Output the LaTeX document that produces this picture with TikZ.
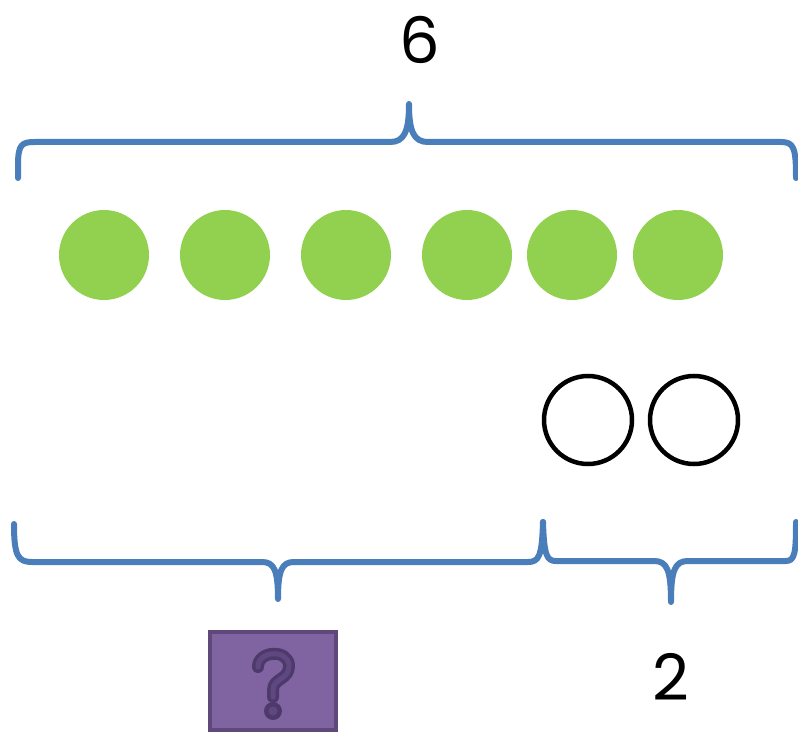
\documentclass[tikz,border=0pt]{standalone}
\usepackage{fontspec}
\setmainfont{Poppins}
\definecolor{bracec}{HTML}{4A7EBB}
\definecolor{greenc}{HTML}{92D050}
\definecolor{purplec}{HTML}{8064A2}
\definecolor{purpled}{HTML}{5F497A}
\definecolor{qdark}{HTML}{4E3A6A}
\definecolor{qmid}{HTML}{5F4882}
\begin{document}
\begin{tikzpicture}[x=1pt,y=-1pt,
  brace/.style={draw=bracec,line width=6pt,line cap=round,line join=round},
  dot/.style={circle,fill=greenc,minimum size=90pt,inner sep=0pt},
  ring/.style={circle,draw=black,line width=4.5pt,minimum size=88pt,inner sep=0pt},
  num/.style={font=\fontsize{64}{70}\selectfont,inner sep=0pt},
  qpath/.style={line cap=round,line join=round}]
\useasboundingbox (0,0) rectangle (798,733);
% top brace
\draw[brace] (18,178) -- (18,165) .. controls (18,144) and (22,142) .. (35,142)
  -- (390,142) .. controls (404,142) and (409,132) .. (409,104)
  .. controls (409,132) and (414,142) .. (428,142)
  -- (781,142) .. controls (794,142) and (796,148) .. (796,178);
\node[num] (six) at (420,40) {6};
% green dots
\foreach \x/\n in {104/g1,225/g2,346/g3,467/g4,572/g5,678/g6}
  \node[dot] (\n) at (\x,255) {};
% rings
\node[ring] (r1) at (588,420) {};
\node[ring] (r2) at (694,420) {};
% bottom left brace
\draw[brace] (14,524) .. controls (14,556) and (18,562) .. (32,562)
  -- (262,562) .. controls (274,562) and (278,570) .. (278,599)
  .. controls (278,570) and (282,562) .. (294,562)
  -- (528,562) .. controls (539,562) and (542,556) .. (543,522);
% bottom right brace
\draw[brace] (543,522) .. controls (544,556) and (547,561) .. (556,561)
  -- (654,561) .. controls (667,561) and (671,570) .. (671,602)
  .. controls (671,570) and (675,561) .. (688,561)
  -- (786,561) .. controls (795,561) and (796,552) .. (796,522);
\node[num] (two) at (671,677) {2};
% question box
\node[draw=purpled,fill=purplec,line width=4pt,minimum width=126pt,minimum height=98pt,inner sep=0pt] (q) at (272.5,681) {};
\draw[qdark,line width=12pt,qpath] (258,667) .. controls (258,650) and (289,649) .. (289,666)
  .. controls (289,680) and (273,678) .. (273,690) -- (273,697);
\draw[qmid,line width=5pt,qpath] (258,667) .. controls (258,650) and (289,649) .. (289,666)
  .. controls (289,680) and (273,678) .. (273,690) -- (273,697);
\fill[qdark] (273,711) circle (9);
\fill[qmid] (273,711) circle (4.5);
\end{tikzpicture}
\end{document}
